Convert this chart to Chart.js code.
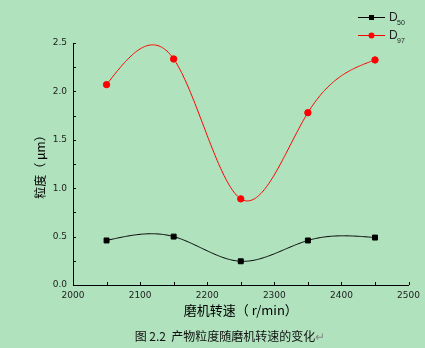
<!DOCTYPE html>
<html>
<head>
<meta charset="utf-8">
<script src="https://cdn.jsdelivr.net/npm/chart.js@4"></script>
<style>
  html, body { margin: 0; padding: 0; background: #afe2bd; }
  #wrap { position: relative; width: 425px; height: 348px; }
  #caption {
    position: absolute; left: 0; width: 460px; top: 327px;
    text-align: center; font: 12px "Noto Sans CJK SC", sans-serif; color: #111;
  }
  #caption span { color: #888; }
</style>
</head>
<body>
<div id="wrap">
  <canvas id="myChart" width="425" height="348"></canvas>
  <div id="caption">图 2.2&nbsp; 产物粒度随磨机转速的变化<span>↵</span></div>
</div>
<script>
// mill speed (r/min) and particle size (μm)
var speeds = [2050, 2150, 2250, 2350, 2450];
var d50 = [0.46, 0.50, 0.245, 0.46, 0.49];
var d97 = [2.07, 2.335, 0.89, 1.78, 2.325];
var xMajor = [2000, 2100, 2200, 2300, 2400, 2500];
var yMajor = [0, 0.5, 1.0, 1.5, 2.0, 2.5];

function toPoints(vals) {
  return speeds.map(function (s, i) { return { x: s, y: vals[i] }; });
}

// natural cubic spline second derivatives (Thomas algorithm)
function splineM(xs, ys) {
  var n = xs.length, M = new Array(n).fill(0);
  if (n < 3) return M;
  var a = [], b = [], c = [], d = [];
  for (var i = 1; i < n - 1; i++) {
    var h0 = xs[i] - xs[i - 1], h1 = xs[i + 1] - xs[i];
    a.push(h0); b.push(2 * (h0 + h1)); c.push(h1);
    d.push(6 * ((ys[i + 1] - ys[i]) / h1 - (ys[i] - ys[i - 1]) / h0));
  }
  var m = b.length;
  for (var k = 1; k < m; k++) {
    var w = a[k] / b[k - 1];
    b[k] -= w * c[k - 1];
    d[k] -= w * d[k - 1];
  }
  var sol = new Array(m);
  sol[m - 1] = d[m - 1] / b[m - 1];
  for (var k2 = m - 2; k2 >= 0; k2--) sol[k2] = (d[k2] - c[k2] * sol[k2 + 1]) / b[k2];
  for (var j = 0; j < m; j++) M[j + 1] = sol[j];
  return M;
}

// draws each series as a smooth spline through its points
var splineLines = {
  id: 'splineLines',
  beforeDatasetsDraw: function (chart) {
    var c = chart.ctx, xs = chart.scales.x, ys = chart.scales.y;
    c.save();
    chart.data.datasets.forEach(function (ds) {
      var px = ds.data.map(function (p) { return p.x; });
      var py = ds.data.map(function (p) { return p.y; });
      var M = splineM(px, py);
      c.strokeStyle = ds.borderColor;
      c.lineWidth = 1;
      c.beginPath();
      for (var i = 0; i < px.length - 1; i++) {
        var h = px[i + 1] - px[i];
        for (var s = 0; s <= 60; s++) {
          var t = px[i] + h * s / 60;
          var A = (px[i + 1] - t) / h, B = (t - px[i]) / h;
          var v = A * py[i] + B * py[i + 1] +
            ((A * A * A - A) * M[i] + (B * B * B - B) * M[i + 1]) * h * h / 6;
          var X = xs.getPixelForValue(t), Y = ys.getPixelForValue(v);
          if (i === 0 && s === 0) c.moveTo(X, Y); else c.lineTo(X, Y);
        }
      }
      c.stroke();
    });
    c.restore();
  }
};

// inward tick marks, major + minor
var innerTicks = {
  id: 'innerTicks',
  afterDatasetsDraw: function (chart) {
    var c = chart.ctx, xs = chart.scales.x, ys = chart.scales.y;
    c.save();
    c.strokeStyle = '#000';
    c.lineWidth = 1;
    c.beginPath();
    xMajor.forEach(function (v, i) {
      var px = Math.round(xs.getPixelForValue(v)) + 0.5;
      c.moveTo(px, ys.bottom); c.lineTo(px, ys.bottom - 3);
      if (i < xMajor.length - 1) {
        var pm = Math.round(xs.getPixelForValue(v + 50)) + 0.5;
        c.moveTo(pm, ys.bottom); c.lineTo(pm, ys.bottom - 3);
      }
    });
    yMajor.forEach(function (v, i) {
      var py = Math.round(ys.getPixelForValue(v)) + 0.5;
      c.moveTo(xs.left, py); c.lineTo(xs.left + 3, py);
      if (i < yMajor.length - 1) {
        var pm = Math.round(ys.getPixelForValue(v + 0.25)) + 0.5;
        c.moveTo(xs.left, pm); c.lineTo(xs.left + 3, pm);
      }
    });
    c.stroke();
    c.restore();
  }
};

// legend with subscripts
var subLegend = {
  id: 'subLegend',
  afterDraw: function (chart) {
    var c = chart.ctx;
    var items = [
      { color: '#000', sub: '50', y: 17, shape: 'rect' },
      { color: '#f00', sub: '97', y: 35, shape: 'circle' }
    ];
    c.save();
    items.forEach(function (it) {
      c.strokeStyle = it.color;
      c.fillStyle = it.color;
      c.lineWidth = 1;
      c.beginPath();
      c.moveTo(358, it.y + 0.5); c.lineTo(385, it.y + 0.5);
      c.stroke();
      if (it.shape === 'rect') {
        c.fillRect(369, it.y - 2, 5, 5);
      } else {
        c.beginPath(); c.arc(371.5, it.y + 0.5, 3, 0, Math.PI * 2); c.fill();
      }
      c.fillStyle = '#222';
      c.textBaseline = 'alphabetic';
      c.font = '12px "Liberation Sans", sans-serif';
      c.fillText('D', 389, it.y + 4);
      c.font = '7px "Liberation Sans", sans-serif';
      c.fillText(it.sub, 397, it.y + 8);
    });
    c.restore();
  }
};

var ctx = document.getElementById('myChart').getContext('2d');

var myChart = new Chart(ctx, {
  type: 'line',
  data: {
    datasets: [{
      label: 'D50',
      data: toPoints(d50),
      borderColor: '#000',
      backgroundColor: '#000',
      showLine: false,
      pointStyle: 'rect',
      pointRadius: 3.5
    }, {
      label: 'D97',
      data: toPoints(d97),
      borderColor: '#f00',
      backgroundColor: '#f00',
      showLine: false,
      pointStyle: 'circle',
      pointRadius: 3.2
    }]
  },
  options: {
    responsive: false,
    animation: false,
    layout: { padding: { left: 33, top: 43, right: 15, bottom: 30 } },
    plugins: {
      legend: { display: false },
      tooltip: { enabled: false }
    },
    scales: {
      x: {
        type: 'linear',
        min: 2000,
        max: 2500,
        grid: { display: false, drawTicks: false },
        border: { display: true, color: '#000', width: 1 },
        ticks: {
          stepSize: 100,
          padding: 5,
          color: '#222',
          font: { family: 'DejaVu Sans', size: 9 },
          callback: function (v) { return String(v); }
        },
        title: {
          display: true,
          text: '磨机转速（ r/min）',
          color: '#000',
          padding: 0,
          font: { family: 'Noto Sans CJK SC', size: 13 }
        },
        afterFit: function (scale) { scale.height = 33; }
      },
      y: {
        min: 0,
        max: 2.5,
        grid: { display: false, drawTicks: false },
        border: { display: true, color: '#000', width: 1 },
        ticks: {
          stepSize: 0.5,
          padding: 6,
          color: '#222',
          font: { family: 'DejaVu Sans', size: 9 },
          callback: function (v) { return v.toFixed(1); }
        },
        title: {
          display: true,
          text: '粒度（ μm）',
          color: '#000',
          padding: 0,
          font: { family: 'Noto Sans CJK SC', size: 12 }
        },
        afterFit: function (scale) { scale.width = 40; }
      }
    }
  },
  plugins: [splineLines, innerTicks, subLegend]
});
</script>
</body>
</html>
